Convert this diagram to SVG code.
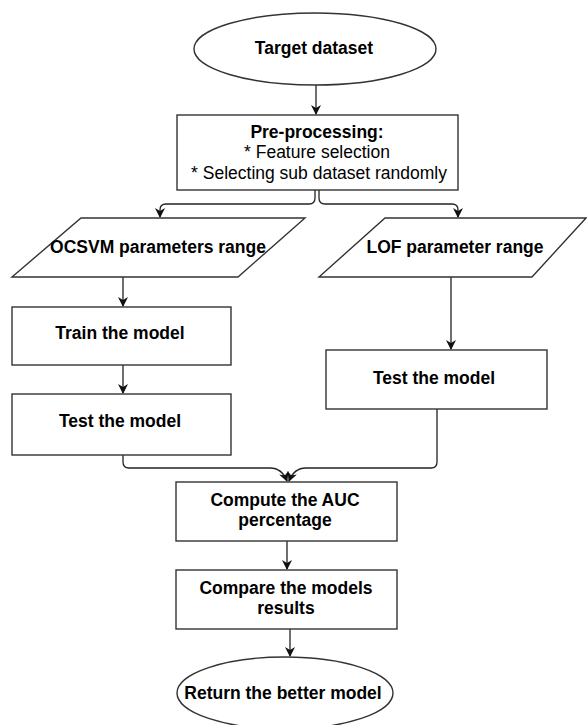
<svg xmlns="http://www.w3.org/2000/svg" width="587" height="725" viewBox="0 0 587 725">
<style>
.s{fill:#fff;stroke:#333;stroke-width:1.4}
.c{fill:none;stroke:#222;stroke-width:1.3}
text{font-family:"Liberation Sans",Arial,sans-serif;font-size:17.5px;fill:#000;text-anchor:middle}
.b{font-weight:bold}
</style>
<defs>
<marker id="a" viewBox="0 0 10 10" refX="9" refY="5" markerWidth="10" markerHeight="10" markerUnits="userSpaceOnUse" orient="auto">
<path d="M0,0 L10,5 L0,10 L3,5 Z" fill="#111"/>
</marker>
</defs>
<rect width="587" height="725" fill="#fff"/>
<g id="connectors">
<path class="c" d="M316,85 V114" marker-end="url(#a)"/>
<path class="c" d="M315,190 V198 Q315,204 309,204 H166 Q160,204 160,210 V217" marker-end="url(#a)"/>
<path class="c" d="M319,190 V198 Q319,204 325,204 H452 Q458,204 458,210 V217" marker-end="url(#a)"/>
<path class="c" d="M123,277 V306" marker-end="url(#a)"/>
<path class="c" d="M123,365 V393" marker-end="url(#a)"/>
<path class="c" d="M451,277 V349" marker-end="url(#a)"/>
<path class="c" d="M123,455 V462 Q123,468 129,468 H270 Q282,468 287,481" marker-end="url(#a)"/>
<path class="c" d="M437,409 V462 Q437,468 431,468 H306 Q294,468 289,481" marker-end="url(#a)"/>
<path class="c" d="M287,541 V569" marker-end="url(#a)"/>
<path class="c" d="M290,629 V656" marker-end="url(#a)"/>
</g>
<g id="target">
<ellipse class="s" cx="315" cy="49" rx="121" ry="36"/>
<text class="b" x="314" y="54">Target dataset</text>
</g>
<g id="preprocessing">
<rect class="s" x="177" y="115" width="281" height="75"/>
<text class="b" x="317" y="138">Pre-processing:</text>
<text x="317" y="158">* Feature selection</text>
<text x="319" y="179">* Selecting sub dataset randomly</text>
</g>
<g id="ocsvm">
<polygon class="s" points="81,218 305,218 238,277 12,277"/>
<text class="b" x="158" y="253">OCSVM parameters range</text>
</g>
<g id="lof">
<polygon class="s" points="385,218 586,218 532,277 319,277"/>
<text class="b" x="455" y="253">LOF parameter range</text>
</g>
<g id="train">
<rect class="s" x="12" y="307" width="219" height="58"/>
<text class="b" x="120" y="339">Train the model</text>
</g>
<g id="test1">
<rect class="s" x="12" y="394" width="219" height="61"/>
<text class="b" x="120" y="427">Test the model</text>
</g>
<g id="test2">
<rect class="s" x="326" y="350" width="221" height="59"/>
<text class="b" x="434" y="384">Test the model</text>
</g>
<g id="auc">
<rect class="s" x="176" y="482" width="221" height="59"/>
<text class="b" x="285" y="506">Compute the AUC</text>
<text class="b" x="285" y="526">percentage</text>
</g>
<g id="compare">
<rect class="s" x="176" y="570" width="221" height="59"/>
<text class="b" x="286" y="594">Compare the models</text>
<text class="b" x="286" y="614">results</text>
</g>
<g id="return">
<ellipse class="s" cx="285" cy="693" rx="108" ry="36"/>
<text class="b" x="283" y="699">Return the better model</text>
</g>
</svg>
